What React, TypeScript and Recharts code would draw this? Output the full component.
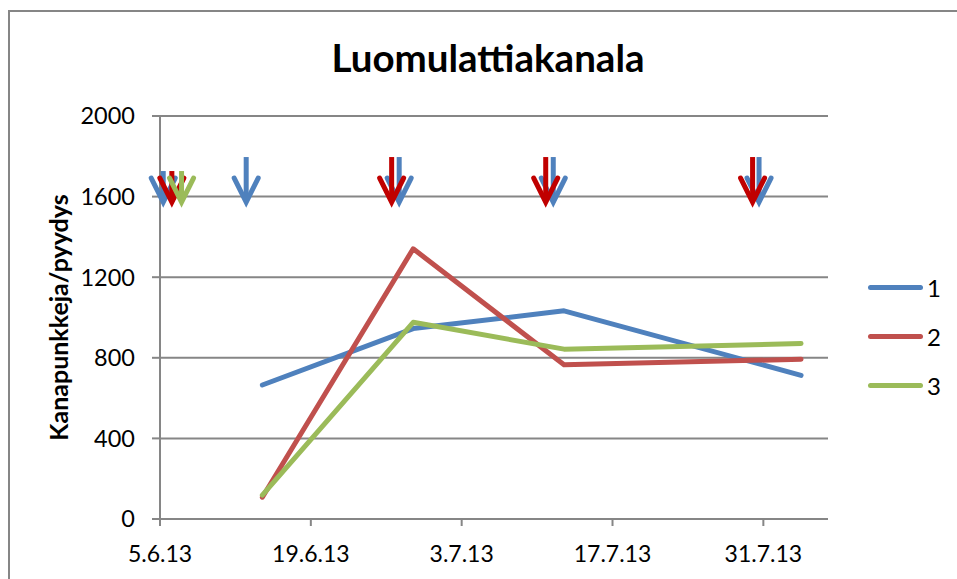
import React from 'react';
import { LineChart, Line, XAxis, YAxis, CartesianGrid, ReferenceDot } from 'recharts';

// x-axis tick labels (dates, d.m.yy)
const tickLabels = ['5.6.13', '19.6.13', '3.7.13', '17.7.13', '31.7.13'];
// sampling dates
const sampleDates = ['14.6.13', '28.6.13', '12.7.13', '3.8.13'];
// mites per trap, by flock
const series1 = [665, 945, 1033, 713];
const series2 = [108, 1341, 765, 793];
const series3 = [118, 976, 843, 871];
const yTicks = [0, 400, 800, 1200, 1600, 2000];

// treatment arrows, days after 5.6.13
const blueArrowDays = [0.3, 8, 22.2, 36.5, 55.6];
const redArrowDays = [1.1, 21.5, 35.8, 55];
const greenArrowDays = [2];
const ARROW_TIP = 1573;

const BLUE = '#4F81BD';
const RED = '#C0504D';
const GREEN = '#9BBB59';
const GREY = '#868686';
const FONT = 'Lato, "Open Sans", sans-serif';

const SERIES = [
  { key: 's1', name: '1', color: BLUE, values: series1 },
  { key: 's2', name: '2', color: RED, values: series2 },
  { key: 's3', name: '3', color: GREEN, values: series3 },
];

const dayOf = (s: string) => {
  const [d, m, y] = s.split('.').map(Number);
  return (Date.UTC(2000 + y, m - 1, d) - Date.UTC(2013, 5, 5)) / 86400000;
};

const ticks = tickLabels.map(dayOf);

// points sit in the middle of their day
const data = sampleDates.map((date, i) => ({
  x: dayOf(date) + 0.5,
  s1: series1[i],
  s2: series2[i],
  s3: series3[i],
}));

const Arrow = (props: any) => {
  const { cx, cy, color, day } = props;
  const len = day < 3 ? 31 : 45;
  return (
    <g>
      <line x1={cx} y1={cy - len} x2={cx} y2={cy - 4} stroke={color} strokeWidth={5} />
      <polyline
        points={`${cx - 12},${cy - 24} ${cx},${cy} ${cx + 12},${cy - 24}`}
        fill="none"
        stroke={color}
        strokeWidth={5}
        strokeLinecap="round"
        strokeLinejoin="miter"
      />
    </g>
  );
};

const arrowDots = (days: number[], color: string, tag: string) =>
  days.map((d) => (
    <ReferenceDot
      key={`${tag}-${d}`}
      x={d}
      y={ARROW_TIP}
      r={1}
      shape={(p: any) => <Arrow {...p} color={color} day={d} />}
    />
  ));

const App: React.FC = () => {
  return (
    <div
      style={{
        position: 'absolute',
        left: 0,
        top: 0,
        width: 957,
        height: 579,
        overflow: 'hidden',
        background: '#fff',
        fontFamily: FONT,
      }}
    >
      <div
        style={{
          position: 'absolute',
          left: 8,
          top: 10,
          width: 2000,
          height: 2000,
          borderLeft: `2px solid ${GREY}`,
          borderTop: `2px solid ${GREY}`,
        }}
      />
      <div
        style={{
          position: 'absolute',
          left: 0,
          top: 38,
          width: 976,
          textAlign: 'center',
          fontSize: 38.5,
          lineHeight: 1,
          fontWeight: 700,
          color: '#000',
        }}
      >
        Luomulattiakanala
      </div>
      <div style={{ position: 'absolute', left: 0, top: 0 }}>
        <LineChart
          width={957}
          height={579}
          data={data}
          margin={{ top: 116, right: 129, bottom: 0, left: 0 }}
        >
          <CartesianGrid vertical={false} stroke={GREY} strokeWidth={2} />
          <XAxis
            dataKey="x"
            type="number"
            domain={[0, 62]}
            ticks={ticks}
            interval={0}
            tickFormatter={(v: number) => tickLabels[ticks.indexOf(v)] ?? ''}
            height={60}
            tickSize={7}
            tickMargin={20}
            axisLine={{ stroke: GREY, strokeWidth: 2 }}
            tickLine={{ stroke: GREY, strokeWidth: 2 }}
            tick={{ fill: '#000', fontSize: 23, fontFamily: FONT }}
          />
          <YAxis
            type="number"
            domain={[0, 2000]}
            ticks={yTicks}
            interval={0}
            width={160}
            tickSize={8}
            tickMargin={17}
            axisLine={{ stroke: GREY, strokeWidth: 2 }}
            tickLine={{ stroke: GREY, strokeWidth: 2 }}
            tick={{ fill: '#000', fontSize: 23.5, fontFamily: FONT }}
            label={{
              value: 'Kanapunkkeja/pyydys',
              angle: -90,
              position: 'center',
              dx: -21,
              fill: '#000',
              fontSize: 25,
              fontWeight: 700,
              fontFamily: FONT,
            }}
          />
          {SERIES.map((s) => (
            <Line
              key={s.key}
              dataKey={s.key}
              name={s.name}
              stroke={s.color}
              strokeWidth={5}
              strokeLinecap="round"
              strokeLinejoin="round"
              dot={false}
              activeDot={false}
              isAnimationActive={false}
            />
          ))}
          {arrowDots(blueArrowDays, BLUE, 'b')}
          {arrowDots(redArrowDays, '#C00000', 'r')}
          {arrowDots(greenArrowDays, GREEN, 'g')}
        </LineChart>
      </div>
      <div style={{ position: 'absolute', left: 868, top: 263 }}>
        {SERIES.map((s) => (
          <div key={s.key} style={{ display: 'flex', alignItems: 'center', height: 49 }}>
            <div style={{ width: 55, height: 5, borderRadius: 3, background: s.color }} />
            <span style={{ fontSize: 24, marginLeft: 4, color: '#000' }}>{s.name}</span>
          </div>
        ))}
      </div>
    </div>
  );
};

export default App;
